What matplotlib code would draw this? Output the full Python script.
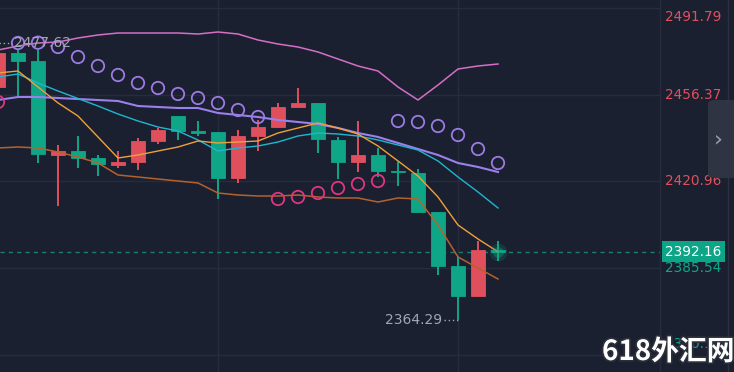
import matplotlib
matplotlib.use("Agg")
import matplotlib.pyplot as plt
import matplotlib.transforms as mtransforms
import matplotlib.patheffects as pe
from matplotlib.patches import FancyBboxPatch
import numpy as np

# ---------------- data ----------------
opens  = [2459.50, 2473.40, 2470.13, 2431.71, 2433.35, 2430.48, 2427.62, 2428.85, 2437.43, 2447.65,
          2441.31, 2441.11, 2422.31, 2439.48, 2443.15, 2451.33, 2452.96, 2437.84, 2428.85, 2431.71,
          2424.96, 2424.35, 2408.42, 2386.35, 2374.08, 2392.50]
highs  = [2477.62, 2474.62, 2474.62, 2435.80, 2439.48, 2431.71, 2433.35, 2438.66, 2442.75, 2447.65,
          2445.61, 2441.11, 2441.93, 2446.02, 2452.96, 2459.09, 2452.96, 2439.07, 2445.61, 2434.57,
          2428.85, 2425.99, 2408.42, 2390.02, 2396.56, 2396.56]
lows   = [2457.00, 2455.42, 2428.44, 2410.87, 2426.40, 2423.13, 2426.40, 2425.58, 2436.21, 2437.84,
          2439.48, 2413.73, 2420.27, 2433.35, 2443.15, 2451.33, 2432.53, 2421.90, 2424.76, 2422.72,
          2419.04, 2408.01, 2382.67, 2364.29, 2374.08, 2388.39]
closes = [2473.40, 2470.13, 2432.12, 2433.35, 2430.48, 2428.03, 2428.85, 2437.43, 2441.93, 2441.52,
          2440.90, 2422.31, 2439.48, 2443.15, 2451.33, 2452.96, 2438.25, 2428.85, 2431.71, 2425.17,
          2424.56, 2408.42, 2386.35, 2374.08, 2392.88, 2392.16]

ma_orange = [2465.23, 2466.04, 2459.5, 2453.0, 2447.65, 2439.07, 2430.48, 2431.71, 2433.35, 2434.98,
             2437.43, 2436.62, 2437.02, 2437.43, 2440.70, 2442.75, 2444.79, 2442.75, 2440.29, 2435.39,
             2429.26, 2423.13, 2414.55, 2403.10, 2397.38, 2392.16]
ma_cyan   = [2463.59, 2464.82, 2461.14, 2457.87, 2454.80, 2451.74, 2448.47, 2445.61, 2443.15, 2441.52,
             2437.84, 2433.35, 2434.57, 2435.39, 2437.02, 2439.48, 2440.70, 2440.29, 2439.48, 2437.84,
             2435.80, 2433.75, 2429.26, 2422.72, 2416.59, 2410.05]
ma_purple = [2454.19, 2455.42, 2455.42, 2455.01, 2454.60, 2454.19, 2453.78, 2451.74, 2451.33, 2450.92,
             2450.92, 2448.88, 2448.06, 2447.24, 2446.02, 2445.20, 2444.38, 2442.75, 2440.70, 2439.07,
             2436.62, 2434.16, 2431.71, 2428.44, 2426.81, 2424.76]
band_lower = [2434.57, 2434.98, 2434.57, 2432.94, 2430.89, 2428.44, 2423.54, 2422.72, 2421.90, 2421.08,
              2420.27, 2416.18, 2415.36, 2414.95, 2414.95, 2415.36, 2414.55, 2414.14, 2414.14, 2412.50,
              2414.14, 2413.73, 2403.10, 2390.02, 2385.53, 2381.03]
band_upper = [2474.62, 2476.26, 2477.49, 2477.89, 2479.53, 2480.76, 2481.57, 2481.57, 2481.57, 2481.57,
              2481.16, 2481.98, 2481.16, 2478.71, 2477.08, 2475.85, 2473.81, 2470.95, 2468.09, 2466.04,
              2459.50, 2454.19, 2460.32, 2466.86, 2468.09, 2468.90]
sar_values = [2453.37, 2477.49, 2477.62, 2475.85, 2471.76, 2468.09, 2464.41, 2461.14, 2459.09, 2456.64,
              2455.01, 2452.96, 2450.10, 2447.24, 2413.73, 2414.55, 2416.18, 2418.22, 2419.86, 2421.08,
              2445.61, 2445.20, 2443.56, 2439.89, 2434.16, 2428.44]
sar_above = [False, True, True, True, True, True, True, True, True, True, True, True, True, True,
             False, False, False, False, False, False, True, True, True, True, True, True]

price_ticks = [2491.79, 2456.37, 2420.96, 2385.54, 2350.12]
price_tick_labels = ["2491.79", "2456.37", "2420.96", "2385.54", "2350.12"]
time_grid = [11, 23]
current_price = 2392.16
current_label = "2392.16"
high_label = "2477.62"
low_label = "2364.29"
watermark = "618外汇网"

# ---------------- style ----------------
BG = "#1b2030"
GRID = "#262c3b"
UP = "#e0505c"     # red = rise
DOWN = "#0fa688"   # green = fall
C_ORANGE = "#f0a03a"
C_CYAN = "#1fb6cf"
C_PURPLE = "#9b7fec"
C_BROWN = "#b4622c"
C_PINK = "#d56fc6"
C_SAR_UP = "#9b7be2"
C_SAR_DN = "#e03580"
TXT = "#a2a6b0"

W, H = 734, 372
fig = plt.figure(figsize=(W / 100, H / 100), dpi=100, facecolor=BG)
ax = fig.add_axes([0, 0, 660 / W, 1], facecolor=BG)
for s in ax.spines.values():
    s.set_visible(False)
ax.tick_params(left=False, bottom=False, labelleft=False, labelbottom=False)
ax.set_yticks(price_ticks)
ax.set_xticks(time_grid)
ax.grid(True, color=GRID, linewidth=1.0, zorder=0)

x = np.arange(len(opens))
o = np.array(opens); c = np.array(closes); h = np.array(highs); l = np.array(lows)
up = c >= o
cols = np.where(up, UP, DOWN)
cols[-1] = DOWN

# wicks
ax.vlines(x, l, h, colors=cols, linewidth=1.4, zorder=3)
# bodies
bottoms = np.minimum(o, c)
heights = np.maximum(np.abs(c - o), 0.6)
ax.bar(x, heights, bottom=bottoms, width=0.68, color=cols, edgecolor=cols, linewidth=0.6, zorder=4)

# indicator lines
ax.plot(x, band_upper, color=C_PINK, lw=1.1, zorder=5)
ax.plot(x, band_lower, color=C_BROWN, lw=1.1, zorder=5)
ax.plot(x, ma_purple, color=C_PURPLE, lw=1.5, zorder=5)
ax.plot(x, ma_cyan, color=C_CYAN, lw=1.0, zorder=5)
ax.plot(x, ma_orange, color=C_ORANGE, lw=1.0, zorder=5)

# parabolic SAR
sa = np.array(sar_above); sv = np.array(sar_values)
ax.scatter(x[sa], sv[sa], s=80, facecolors="none", edgecolors=C_SAR_UP, linewidths=1.3, zorder=6)
ax.scatter(x[~sa], sv[~sa], s=80, facecolors="none", edgecolors=C_SAR_DN, linewidths=1.3, zorder=6)

# glow on the live candle
ax.scatter([x[-1]], [current_price], s=160, color=DOWN, alpha=0.18, linewidths=0, zorder=6)
ax.scatter([x[-1]], [current_price], s=60, color=DOWN, alpha=0.35, linewidths=0, zorder=6)

# current price dashed line
ax.axhline(current_price, color="#1b7d6c", lw=1.0, ls=(0, (3, 3)), zorder=2)

# high / low markers
i_hi = int(np.argmax(h)); i_lo = int(np.argmin(l))
ax.plot([x[i_hi], x[i_hi] + 0.7], [h[i_hi], h[i_hi]], color=TXT, lw=1, ls=(0, (1, 2)), zorder=7)
ax.text(x[i_hi] + 0.8, h[i_hi], high_label, color=TXT, fontsize=10, ha="left", va="center", zorder=7)
ax.plot([x[i_lo] - 0.7, x[i_lo]], [l[i_lo], l[i_lo]], color=TXT, lw=1, ls=(0, (1, 2)), zorder=7)
ax.text(x[i_lo] - 0.8, l[i_lo], low_label, color=TXT, fontsize=10, ha="right", va="center", zorder=7)

# fixed view (after ticks so nothing expands it)
ax.set_xlim(0.1, 33.1)
ax.set_ylim(2343.02, 2495.06)

# right price scale
tr = mtransforms.blended_transform_factory(ax.transAxes, ax.transData)
xl = 665 / 660
for i, (p, lab) in enumerate(zip(price_ticks, price_tick_labels)):
    colr = UP if p > current_price else DOWN
    yy = p
    if i == 0:
        yy = p - 9 * 0.4087
    if i == len(price_ticks) - 1:
        yy = p + 11 * 0.4087
    ax.text(xl, yy, lab, transform=tr, color=colr, fontsize=9.8, ha="left", va="center", clip_on=False, zorder=8)

# current price box
ax.text(xl, current_price, current_label, transform=tr, color="white", fontsize=9.8, ha="left", va="center",
        clip_on=False, zorder=9,
        bbox=dict(boxstyle="square,pad=0.25", facecolor="#0ca587", edgecolor="none"))

# separator lines of the price scale
fig.add_artist(plt.Line2D([660 / W, 660 / W], [0, 1], color=GRID, lw=1.0))
fig.add_artist(plt.Line2D([728 / W, 728 / W], [0, 1], color="#2c3140", lw=1.0))

# collapse tab
tab = FancyBboxPatch((708 / W, 1 - 178 / H), 30 / W, 78 / H, boxstyle="round,pad=0,rounding_size=0.01",
                     transform=fig.transFigure, facecolor="#2f3443", edgecolor="none", zorder=10)
fig.add_artist(tab)
fig.text(718 / W, 1 - 139 / H, "›", color="#9aa0ad", fontsize=16, ha="center", va="center", zorder=11)

# watermark
fig.text(602 / W, 1 - 366 / H, watermark, color="white", fontsize=20, fontweight="bold",
         family=["Noto Sans CJK SC", "DejaVu Sans"], ha="left", va="bottom", zorder=12,
         path_effects=[pe.withStroke(linewidth=2.5, foreground="#2a2f3a")])

fig.savefig("out.png", dpi=100, facecolor=BG)
